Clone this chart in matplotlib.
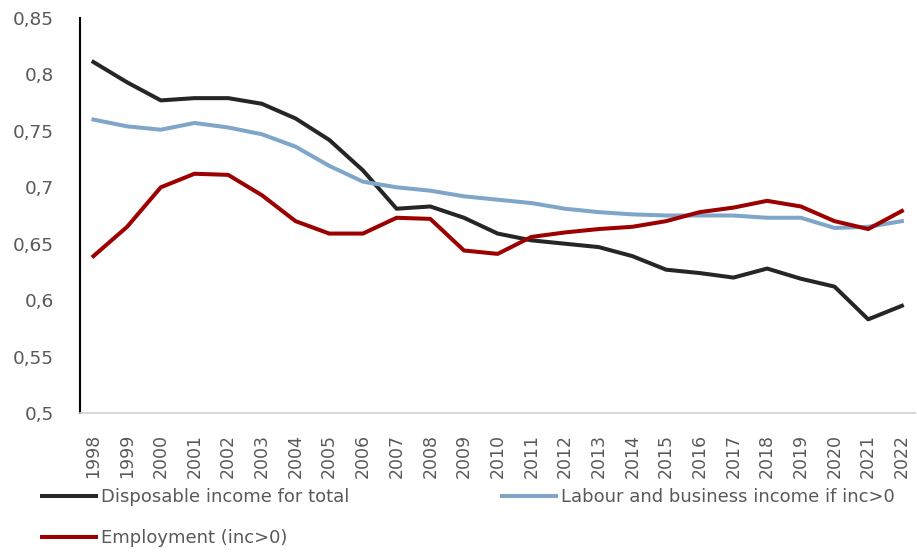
import matplotlib.pyplot as plt
from matplotlib.ticker import FuncFormatter

plt.rcParams["font.family"] = ["DejaVu Sans"]

years = list(range(1998, 2023))

disposable = [0.811, 0.793, 0.777, 0.779, 0.779, 0.774, 0.761, 0.742, 0.715, 0.681,
              0.683, 0.673, 0.659, 0.653, 0.650, 0.647, 0.639, 0.627, 0.624, 0.620,
              0.628, 0.619, 0.612, 0.583, 0.595]
labour = [0.760, 0.754, 0.751, 0.757, 0.753, 0.747, 0.736, 0.719, 0.705, 0.700,
          0.697, 0.692, 0.689, 0.686, 0.681, 0.678, 0.676, 0.675, 0.675, 0.675,
          0.673, 0.673, 0.664, 0.665, 0.670]
employment = [0.639, 0.665, 0.700, 0.712, 0.711, 0.693, 0.670, 0.659, 0.659, 0.673,
              0.672, 0.644, 0.641, 0.656, 0.660, 0.663, 0.665, 0.670, 0.678, 0.682,
              0.688, 0.683, 0.670, 0.663, 0.679]

fig = plt.figure(figsize=(9.17, 5.54), dpi=100)
ax = fig.add_axes([0.0872, 0.2545, 0.911, 0.713])

lw = 2.9
l1, = ax.plot(years, disposable, color="#262626", lw=lw, label="Disposable income for total")
l2, = ax.plot(years, labour, color="#7fa6c9", lw=lw, label="Labour and business income if inc>0")
l3, = ax.plot(years, employment, color="#9c0000", lw=lw, label="Employment (inc>0)")

ax.set_ylim(0.5, 0.85)
ax.set_yticks([0.5, 0.55, 0.6, 0.65, 0.7, 0.75, 0.8, 0.85])
ax.yaxis.set_major_formatter(FuncFormatter(lambda v, p: ("%g" % round(v, 2)).replace(".", ",")))
ax.set_xlim(1997.6, 2022.4)
ax.set_xticks(years)
ax.set_xticklabels([str(y) for y in years], rotation=90)

for s in ["top", "right"]:
    ax.spines[s].set_visible(False)
ax.spines["left"].set_color("black")
ax.spines["left"].set_linewidth(1.5)
ax.spines["bottom"].set_color("#d0d0d0")
ax.spines["bottom"].set_linewidth(1.2)

ax.tick_params(axis="y", length=0, pad=19, labelsize=13.3, labelcolor="#595959")
ax.tick_params(axis="x", length=0, pad=15, labelsize=12.5, labelcolor="#595959")

# legend in two blocks so the second column sits where Excel puts it
leg_kw = dict(loc="upper left", frameon=False, handlelength=3.0, handletextpad=0.28,
              labelspacing=1.3, borderpad=0, borderaxespad=0, fontsize=13,
              labelcolor="#595959")
top = 1 - 488 / 554
fig.legend(handles=[l1, l3], bbox_to_anchor=(42 / 917, top), **leg_kw)
fig.legend(handles=[l2], bbox_to_anchor=(502 / 917, top), **leg_kw)

fig.savefig("out.png", dpi=100)
